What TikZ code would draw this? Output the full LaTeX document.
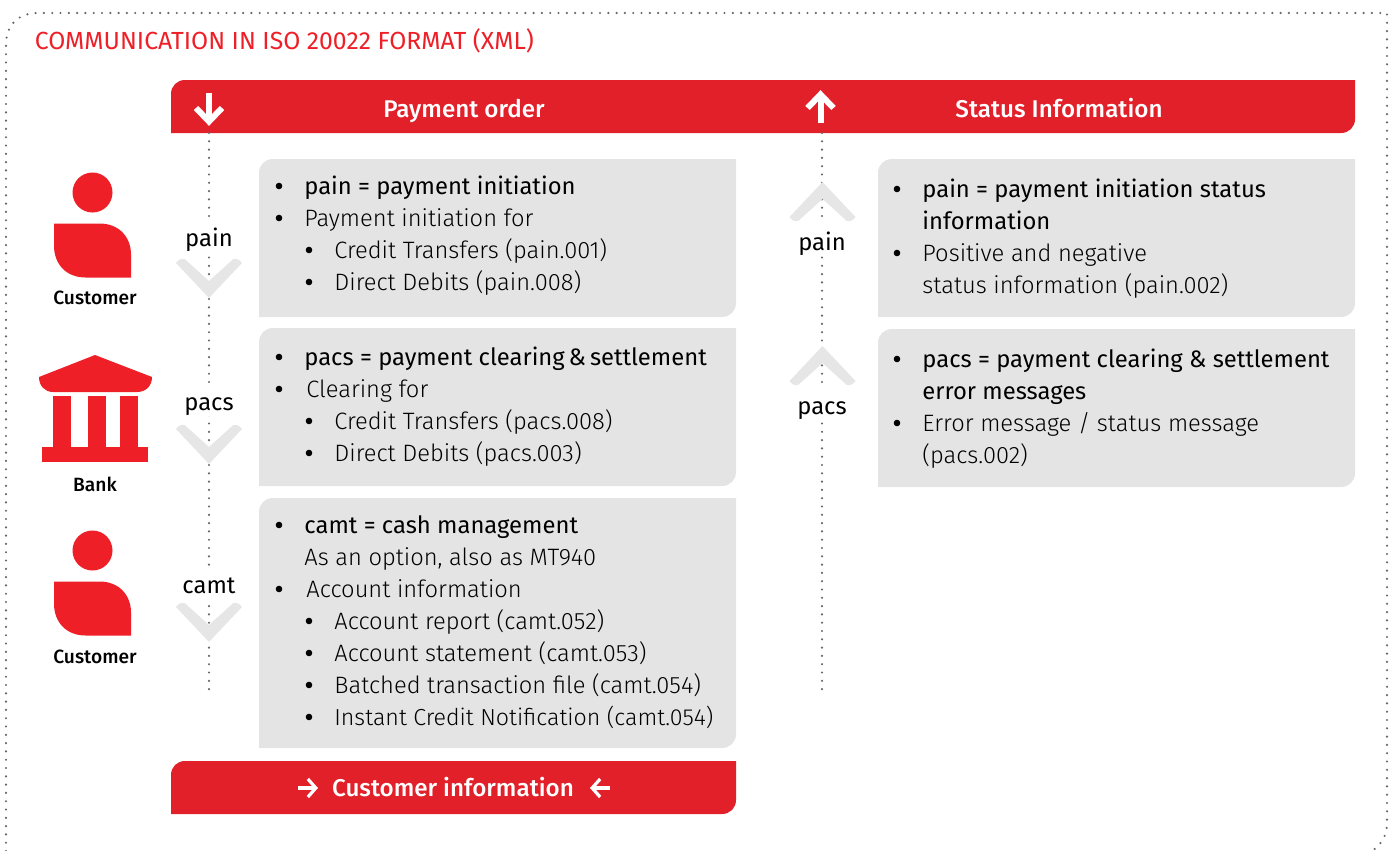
\documentclass[tikz,border=0pt]{standalone}
\usepackage{fontspec}
\setmainfont{Fira Sans Light}
\newfontfamily\regfont{Fira Sans}
\newfontfamily\medfont{Fira Sans Medium}
\usepackage{tikz}
\usetikzlibrary{arrows.meta}
\definecolor{barred}{HTML}{E1202A}
\definecolor{iconred}{HTML}{EE1F27}
\definecolor{boxgray}{HTML}{E4E4E4}
\definecolor{chevgray}{HTML}{E6E6E6}
\definecolor{dotgray}{HTML}{666666}
\tikzset{
  x=0.5pt,y=-0.5pt,
  redbar/.style={fill=barred},
  graybox/.style={fill=boxgray},
  icon/.style={fill=iconred},
  dotline/.style={dotgray,line width=1.2pt,line cap=round,dash pattern=on 0pt off 4.15pt},
  frameline/.style={dotgray,line width=1.2pt,line cap=round,dash pattern=on 0pt off 4.15pt},
  whitearrow/.style={white,line width=3pt,miter limit=10},
  bararrow/.style={white,line width=1.6pt,-{Straight Barb[length=4pt,width=9pt,line width=1.6pt]}},
  headtext/.style={anchor=base west,font=\regfont\fontsize{11.9}{14}\selectfont,text=black,inner sep=0pt},
  itemtext/.style={anchor=base west,font=\fontsize{11.85}{14}\selectfont,text=black,inner sep=0pt},
  bartext/.style={anchor=base,font=\medfont\fontsize{12.1}{14}\selectfont,text=white,inner sep=0pt},
  flowtext/.style={anchor=base,font=\regfont\fontsize{11.9}{14}\selectfont,fill=white,inner sep=1pt,text height=12.5pt,text depth=2pt},
  roletext/.style={font=\medfont\fontsize{9.6}{10}\selectfont,inner sep=0pt},
  itemdot/.style={circle,fill=black,inner sep=0pt,minimum size=3.3pt},
  chevron/.pic={
    \fill[chevgray] (-33,-35) .. controls (-30,-40) and (-24,-41) .. (-21,-36) -- (0,-17) -- (21,-36)
      .. controls (24,-41) and (30,-40) .. (33,-35) -- (0,0) -- cycle;
  },
  person/.pic={
    \fill[icon] (0,0) circle (20);
    \fill[icon] (-38.5,31) -- (7,31) .. controls (26,31) and (38.5,44) .. (38.5,62) -- (38.5,85)
      -- (-7,85) .. controls (-26,85) and (-38.5,72) .. (-38.5,53) -- cycle;
  },
}
\begin{document}
\begin{tikzpicture}
  \useasboundingbox (0,0) rectangle (1394,851);
  % outer frame
  \coordinate (frameA) at (6,851);
  \coordinate (frameB) at (1372,851);
  \draw[frameline] (frameA) -- (6,45) .. controls (6,25) and (18,13) .. (38,13) -- (1387,13) -- (1387,823)
    .. controls (1387,835) and (1382,844) .. (frameB);
  \node[anchor=base west,font=\regfont\fontsize{12.37}{14}\selectfont,text=iconred,inner sep=0pt] (title) at (34.5,49) {COMMUNICATION IN ISO 20022 FORMAT (XML)};

  % red bars
  \fill[redbar] (171,133) -- (171,94) .. controls (171,86) and (177,80) .. (185,80) -- (1355,80) -- (1355,119)
    .. controls (1355,127) and (1349,133) .. (1341,133) -- cycle;
  \fill[redbar] (171,814) -- (171,775) .. controls (171,767) and (177,761) .. (185,761) -- (736,761) -- (736,800)
    .. controls (736,808) and (730,814) .. (722,814) -- cycle;
  \node[bartext] (order) at (464,117) {Payment order};
  \node[bartext] (status) at (1059,117) {Status Information};
  \node[bartext] (custinfo) at (453,796) {Customer information};

  % dotted lines
  \coordinate (orderTop) at (209,133);
  \coordinate (orderEnd) at (209,690);
  \coordinate (statusTop) at (822,133);
  \coordinate (statusEnd) at (822,690);
  \draw[dotline] (orderTop) -- (orderEnd);
  \draw[dotline] (statusTop) -- (statusEnd);
  \node[flowtext] (painA) at (209,246) {pain};
  \node[flowtext] (pacsA) at (209,410) {pacs};
  \node[flowtext] (camtA) at (209,593) {camt};
  \node[flowtext] (painB) at (822,250) {pain};
  \node[flowtext] (pacsB) at (822,414) {pacs};
  \pic at (209,298) {chevron};
  \pic at (209,464) {chevron};
  \pic at (209,642) {chevron};
  \pic[yscale=-1] at (822.5,182) {chevron};
  \pic[yscale=-1] at (822.5,346) {chevron};

  % arrows
  \draw[whitearrow] (209,93) -- (209,121);
  \draw[whitearrow] (196,108) -- (209,121.5) -- (222,108);
  \draw[whitearrow] (820.5,123) -- (820.5,95);
  \draw[whitearrow] (807.5,108) -- (820.5,94.5) -- (833.5,108);
  \coordinate (infoA) at (298,788);
  \coordinate (infoB) at (318,788);
  \coordinate (infoC) at (610,788);
  \coordinate (infoD) at (590,788);
  \draw[bararrow] (infoA) -- (infoB);
  \draw[bararrow] (infoC) -- (infoD);

  % icons
  \pic at (92.5,192.5) {person};
  \pic at (92.5,550.5) {person};
  \fill[icon] (95,355) -- (152,377) .. controls (152,386) and (146,392) .. (137,392) -- (53,392)
    .. controls (45,392) and (39,386) .. (39,377) -- cycle;
  \fill[icon] (53,396) rectangle (71,447);
  \fill[icon] (88,396) rectangle (106,447);
  \fill[icon] (120,396) rectangle (138,447);
  \fill[icon] (42,447) rectangle (148,462);
  \node[roletext] (custA) at (95,298) {Customer};
  \node[roletext] (bank) at (95,484) {Bank};
  \node[roletext] (custB) at (95,657) {Customer};

  % gray boxes
  \foreach \xa/\ya/\xb/\yb in {259/159/736/317,259/328/736/486,259/498/736/748,878/159/1355/317,878/329/1355/487}
    \fill[graybox] (\xa,\yb) -- (\xa,\ya+14) .. controls (\xa,\ya+6) and (\xa+6,\ya) .. (\xa+14,\ya) -- (\xb,\ya) -- (\xb,\yb-14)
      .. controls (\xb,\yb-6) and (\xb-6,\yb) .. (\xb-14,\yb) -- cycle;

  % bullets
  \foreach \bx/\by in {279/186,279/218,309/250,309/282,279/357,279/389,309/421,309/453,
      279/525,279/589,309/621,309/653,309/685,309/717,897/189,897/253,897/359,897/423}
    \node[itemdot] (dot\bx\by) at (\bx,\by) {};

  % left texts
  \node[headtext] (l1) at (304,194) {pain = payment initiation};
  \node[itemtext] (l2) at (304,226) {Payment initiation for};
  \node[itemtext] (l3) at (334,258) {Credit Transfers (pain.001)};
  \node[itemtext] (l4) at (334,290) {Direct Debits (pain.008)};
  \node[headtext] (l5) at (304,365) {pacs = payment clearing\,\&\,settlement};
  \node[itemtext] (l6) at (306,397) {Clearing for};
  \node[itemtext] (l7) at (334,429) {Credit Transfers (pacs.008)};
  \node[itemtext] (l8) at (334,461) {Direct Debits (pacs.003)};
  \node[headtext] (l9) at (304,533) {camt = cash management};
  \node[itemtext] (l10) at (304,565) {As an option, also as MT940};
  \node[itemtext] (l11) at (306,597) {Account information};
  \node[itemtext] (l12) at (334,629) {Account report (camt.052)};
  \node[itemtext] (l13) at (334,661) {Account statement (camt.053)};
  \node[itemtext] (l14) at (334,693) {Batched transaction file (camt.054)};
  \node[itemtext,font=\fontsize{11.6}{14}\selectfont] (l15) at (334,725) {Instant Credit Notification (camt.054)};

  % right texts
  \node[headtext] (r1) at (922,197) {pain = payment initiation status};
  \node[headtext] (r2) at (922,229) {information};
  \node[itemtext] (r3) at (922,261) {Positive and negative};
  \node[itemtext] (r4) at (922,293) {status information (pain.002)};
  \node[headtext] (r5) at (922,367) {pacs = payment clearing \& settlement};
  \node[headtext] (r6) at (922,399) {error messages};
  \node[itemtext] (r7) at (922,431) {Error message / status message};
  \node[itemtext] (r8) at (922,463) {(pacs.002)};
\end{tikzpicture}
\end{document}
